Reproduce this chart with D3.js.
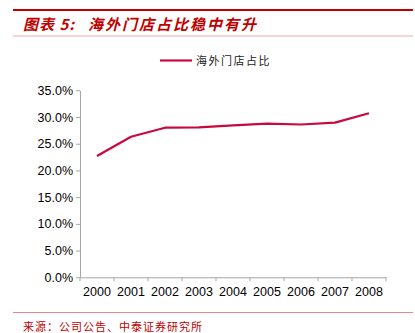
<!DOCTYPE html>
<html>
<head>
<meta charset="utf-8">
<script src="https://cdn.jsdelivr.net/npm/d3@7"></script>
<style>
  html, body { margin: 0; padding: 0; background: #fff; }
  svg { display: block; }
</style>
</head>
<body>
<svg id="chart" width="415" height="333"></svg>
<script>
// Share of overseas stores, 2000–2008
const years = ["2000", "2001", "2002", "2003", "2004", "2005", "2006", "2007", "2008"];
const overseasShare = [22.7, 26.3, 28.0, 28.05, 28.45, 28.75, 28.6, 28.95, 30.7];
const yTicks = [0, 5, 10, 15, 20, 25, 30, 35];
const seriesName = "海外门店占比";
const titleLabel = "图表 5:";
const titleText = "海外门店占比稳中有升";
const sourceText = "来源：公司公告、中泰证券研究所";

const svg = d3.select("#chart");
const red = "#c00000";
const lineColor = "#c8093c";
const axisColor = "#a6a6a6";
const cjk = "'Noto Sans CJK SC', sans-serif";

// Header rules and title
svg.append("line").attr("x1", 13).attr("x2", 413).attr("y1", 10).attr("y2", 10)
  .attr("stroke", red).attr("stroke-width", 2);
svg.append("line").attr("x1", 13).attr("x2", 413).attr("y1", 36).attr("y2", 36)
  .attr("stroke", "#f0a8a8").attr("stroke-width", 1);
const title = svg.append("text").attr("y", 30)
  .attr("fill", red).attr("font-family", cjk).attr("font-size", 15)
  .attr("font-weight", "bold").attr("font-style", "italic");
title.append("tspan").attr("x", 23).attr("letter-spacing", 1).text(titleLabel);
title.append("tspan").attr("x", 88).attr("letter-spacing", 2).text(titleText);

// Plot area
const x0 = 80, x1 = 386, yTop = 90.3, yBottom = 277.3;
const x = d3.scaleBand().domain(years).range([x0, x1]);
const y = d3.scaleLinear().domain([0, 35]).range([yBottom, yTop]);

const yAxis = svg.append("g").attr("transform", `translate(${x0},0)`)
  .call(d3.axisLeft(y).tickValues(yTicks).tickSize(4).tickSizeOuter(0)
    .tickFormat(d => d.toFixed(1) + "%"));
const xAxis = svg.append("g").attr("transform", `translate(0,${yBottom})`)
  .call(d3.axisBottom(x).tickSize(4).tickSizeOuter(0));

// Tick marks on band edges for the category axis
xAxis.selectAll(".tick line").remove();
const edges = years.map((d) => x(d)).concat([x1]);
xAxis.selectAll("line.edge").data(edges).enter().append("line")
  .attr("class", "edge").attr("x1", d => d).attr("x2", d => d)
  .attr("y1", 0).attr("y2", 4).attr("stroke", axisColor);

[yAxis, xAxis].forEach(g => {
  g.select(".domain").attr("stroke", axisColor);
  g.selectAll(".tick line").attr("stroke", axisColor);
  g.selectAll("text").attr("fill", "#000")
    .attr("font-family", "'Liberation Sans', Arial, sans-serif")
    .attr("font-size", 12.5);
});
yAxis.selectAll("text").attr("x", -7);
xAxis.selectAll("text").attr("y", 10);

// Series line
const line = d3.line()
  .x((d, i) => x(years[i]) + x.bandwidth() / 2)
  .y(d => y(d));
svg.append("path").datum(overseasShare)
  .attr("d", line).attr("fill", "none")
  .attr("stroke", lineColor).attr("stroke-width", 2.2)
  .attr("stroke-linejoin", "round");

// Legend
svg.append("line").attr("x1", 160).attr("x2", 192).attr("y1", 60.5).attr("y2", 60.5)
  .attr("stroke", lineColor).attr("stroke-width", 2.2);
svg.append("text").attr("x", 196).attr("y", 64.5)
  .attr("fill", "#222").attr("font-family", cjk).attr("font-size", 11)
  .attr("letter-spacing", 1.5)
  .text(seriesName);

// Source footer
svg.append("line").attr("x1", 13).attr("x2", 413).attr("y1", 312.5).attr("y2", 312.5)
  .attr("stroke", "#e08a8a").attr("stroke-width", 1);
svg.append("text").attr("x", 23).attr("y", 331)
  .attr("fill", red).attr("font-family", cjk).attr("font-size", 11)
  .attr("letter-spacing", 1)
  .text(sourceText);
</script>
</body>
</html>
